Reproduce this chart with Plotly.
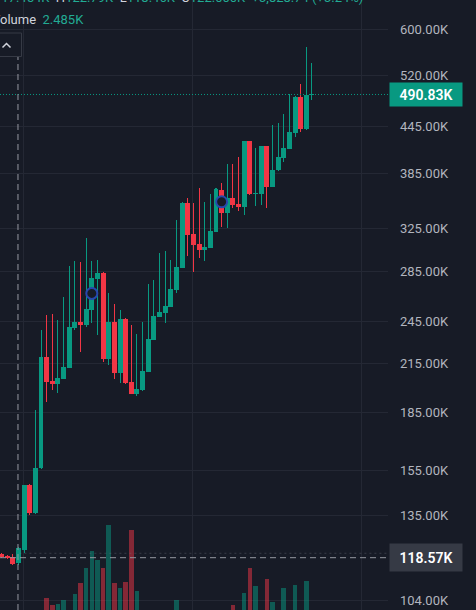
import numpy as np
import plotly.graph_objects as go

# ---------------- data (prices in K) ----------------
candle_index = list(range(56))
opens = [119.8, 119.2, 118.8, 116.5, 121.4, 148.1, 135.9, 155.9, 219.6, 203.8,
         202.0, 205.3, 212.3, 240.0, 244.3, 242.0, 253.6, 278.7, 283.9, 217.9,
         244.4, 209.1, 246.5, 203.3, 196.0, 198.1, 209.7, 231.1, 248.2, 251.3,
         256.0, 269.5, 288.7, 351.8, 319.9, 310.3, 304.6, 306.8, 322.2, 366.1,
         340.9, 356.9, 350.5, 347.9, 425.5, 361.4, 362.0, 419.0, 369.9, 389.3,
         404.3, 415.6, 436.1, 486.6, 441.5, 490.0]
highs = [120.2, 119.5, 119.9, 122.6, 148.3, 148.6, 186.5, 238.3, 249.5, 250.3,
         245.8, 263.7, 290.3, 294.8, 293.9, 316.3, 294.8, 295.4, 284.5, 266.7,
         258.1, 253.4, 247.0, 242.0, 235.4, 244.0, 274.5, 277.9, 301.5, 304.0,
         295.4, 334.0, 352.9, 356.9, 351.5, 368.0, 353.2, 361.4, 368.7, 374.4,
         396.5, 396.5, 405.5, 426.0, 426.0, 416.9, 419.5, 419.5, 447.0, 450.1,
         461.8, 491.5, 488.5, 506.9, 568.3, 540.1]
lows = [118.4, 118.2, 115.9, 115.9, 120.4, 135.1, 135.5, 155.6, 191.3, 198.2,
        196.4, 205.1, 212.1, 238.3, 223.0, 240.7, 243.5, 234.7, 216.2, 214.1,
        204.9, 202.6, 202.0, 195.8, 194.6, 197.6, 209.5, 231.0, 248.0, 243.7,
        255.7, 266.9, 288.2, 299.1, 285.0, 296.9, 294.5, 306.5, 321.9, 327.2,
        326.2, 346.8, 343.3, 339.1, 360.6, 348.6, 349.7, 346.8, 369.5, 388.1,
        399.4, 415.2, 431.2, 437.9, 440.2, 482.6]
closes = [118.8, 118.4, 116.3, 122.0, 148.1, 136.1, 156.1, 219.6, 203.3, 202.1,
          205.7, 212.9, 240.5, 244.3, 242.0, 254.2, 279.5, 283.9, 217.9, 244.4,
          209.1, 246.5, 202.4, 196.0, 198.9, 210.2, 231.8, 248.8, 251.9, 256.5,
          270.5, 289.1, 351.8, 319.0, 309.3, 304.6, 307.7, 322.9, 367.0, 340.9,
          356.9, 349.7, 347.9, 425.5, 361.4, 362.5, 419.0, 369.9, 389.3, 405.2,
          416.5, 437.5, 486.6, 441.5, 490.0, 490.83]
volumes = [1.8, 1.2, 2.1, 2.485, 6.2, 5.1, 6.8, 7.1, 13.4, 10.0,
           10.5, 12.5, 6.9, 15.5, 21.0, 28.5, 37.0, 32.5, 28.5, 50.0,
           21.0, 18.5, 21.5, 47.5, 17.0, 6.5, 5.8, 4.9, 4.2, 5.5,
           6.1, 12.5, 7.2, 6.6, 4.8, 5.2, 3.9, 4.4, 6.9, 5.7,
           6.0, 10.0, 7.0, 16.0, 28.5, 19.5, 7.3, 23.0, 11.5, 7.0,
           18.5, 6.8, 20.0, 7.2, 22.0, 2.1]

tick_vals = [104, 135, 155, 185, 215, 245, 285, 325, 385, 445, 520, 600]
tick_text = [f"{v:.2f}K" for v in tick_vals]
time_grid = [3.81, 33.75, 63.69]

last_price = 490.83
cross_price = 118.57
cross_index = 3
event_index = [16, 39]
event_price = [266.7, 353.2]

# ---------------- style ----------------
BG = "#171b26"
GRID = "#242834"
UP = "#089981"
DOWN = "#f23645"
UP_VOL = "rgba(8,153,129,0.5)"
DOWN_VOL = "rgba(242,54,69,0.5)"
FONT = "Roboto"

W, H = 476, 610
PLOT_W = 388

is_up = [c >= o for o, c in zip(opens, closes)]
body_base = [min(o, c) for o, c in zip(opens, closes)]
body_len = [max(abs(c - o), 0.4) for o, c in zip(opens, closes)]
wick_len = [h - l for h, l in zip(highs, lows)]
cols = [UP if u else DOWN for u in is_up]
vcols = [UP_VOL if u else DOWN_VOL for u in is_up]

fig = go.Figure()

fig.add_trace(go.Bar(x=candle_index, y=volumes, marker=dict(color=vcols, line=dict(width=0)),
                     width=0.8, yaxis="y2", hoverinfo="skip"))
fig.add_trace(go.Bar(x=candle_index, y=wick_len, base=lows, width=0.18,
                     marker=dict(color=cols, line=dict(width=0)), hoverinfo="skip"))
fig.add_trace(go.Bar(x=candle_index, y=body_len, base=body_base, width=0.88,
                     marker=dict(color=cols, line=dict(width=0)), hoverinfo="skip"))
fig.add_trace(go.Scatter(x=event_index, y=event_price, mode="markers",
                         marker=dict(symbol="circle", size=11, color=BG,
                                     line=dict(color="#2747ad", width=2)),
                         hoverinfo="skip"))

px_per = PLOT_W / 68.74
x0 = -1.5 / px_per
x1 = x0 + 68.74

fig.update_layout(
    width=W, height=H,
    margin=dict(l=0, r=W - PLOT_W, t=0, b=0),
    paper_bgcolor=BG, plot_bgcolor=BG,
    barmode="overlay", bargap=0,
    showlegend=False,
    hovermode=False,
    font=dict(family=FONT, color="#b2b5be", size=13),
    xaxis=dict(range=[x0, x1], tickvals=time_grid, showticklabels=False,
               showgrid=True, gridcolor=GRID, gridwidth=1, zeroline=False,
               showline=False, ticks=""),
    yaxis=dict(type="log", range=[np.log10(101.0), np.log10(655.8)], side="right",
               tickvals=tick_vals, ticktext=tick_text, showgrid=True, gridcolor=GRID,
               gridwidth=1, zeroline=False, showline=False, ticks="",
               ticklabelstandoff=11,
               tickfont=dict(family=FONT, size=13, color="#b2b5be")),
    yaxis2=dict(overlaying="y", range=[7.5, 312.5], visible=False, showgrid=False),
)

def py(p):
    return 1 - p / H

def pxp(x):
    return x / PLOT_W

shapes = [
    dict(type="line", xref="paper", yref="y", x0=0, x1=1, y0=last_price, y1=last_price,
         line=dict(color=UP, width=1, dash="1px,2px")),
    dict(type="line", xref="paper", yref="y", x0=0.05, x1=1, y0=120.2, y1=120.2,
         line=dict(color="rgba(120,123,134,0.35)", width=1, dash="2px,3px")),
    dict(type="line", xref="paper", yref="y", x0=0, x1=1, y0=cross_price, y1=cross_price,
         line=dict(color="#9598a1", width=1, dash="6px,4px")),
    dict(type="line", xref="x", yref="paper", x0=cross_index - 0.08, x1=cross_index - 0.08,
         y0=0, y1=py(57), line=dict(color="#9598a1", width=1, dash="6px,4px")),
    dict(type="rect", xref="paper", yref="paper", x0=pxp(-3), x1=pxp(21.5), y0=py(56.5), y1=py(33),
         line=dict(color="#363a45", width=1), fillcolor=BG),
    dict(type="path", xref="paper", yref="paper",
         path=f"M {pxp(2.5)},{py(47.5)} L {pxp(6.5)},{py(43.5)} L {pxp(10.5)},{py(47.5)}",
         line=dict(color="#d1d4dc", width=1.5)),
]
fig.update_layout(shapes=shapes)

annotations = [
    dict(xref="paper", yref="y", x=pxp(389), y=np.log10(last_price), xanchor="left", yanchor="middle",
         text="490.83K", showarrow=False, bgcolor=UP, width=72, height=23, borderpad=0,
         font=dict(family=FONT, size=14, color="#ffffff", weight=600), align="center"),
    dict(xref="paper", yref="y", x=pxp(389), y=np.log10(cross_price), xanchor="left", yanchor="middle",
         text="118.57K", showarrow=False, bgcolor="#363a45", width=72, height=27, borderpad=0,
         font=dict(family=FONT, size=14, color="#ffffff", weight=600), align="center"),
    dict(xref="paper", yref="paper", x=pxp(-10), y=py(19), xanchor="left", yanchor="middle",
         text="Volume  <span style='color:#22ab94'>2.485K</span>", showarrow=False,
         font=dict(family=FONT, size=13, color="#d1d4dc")),
    dict(xref="paper", yref="paper", x=pxp(-8), y=py(-3), xanchor="left", yanchor="middle",
         text=("<span style='color:#22ab94'>117.454K</span>  H<span style='color:#22ab94'>122.79K</span>"
               "  L<span style='color:#22ab94'>118.46K</span>  C<span style='color:#22ab94'>122.000K</span>"
               "  <span style='color:#22ab94'>+3,828.74 (+3.24%)</span>"),
         showarrow=False, font=dict(family=FONT, size=13, color="#d1d4dc")),
]
fig.update_layout(annotations=annotations)

fig.write_html(
    "out.html",
    config={"displayModeBar": False, "staticPlot": True},
    post_script=("document.body.style.margin='0';document.body.style.padding='0';"
                 "document.body.style.overflow='hidden';"
                 "document.body.style.background='#171b26';"),
)
